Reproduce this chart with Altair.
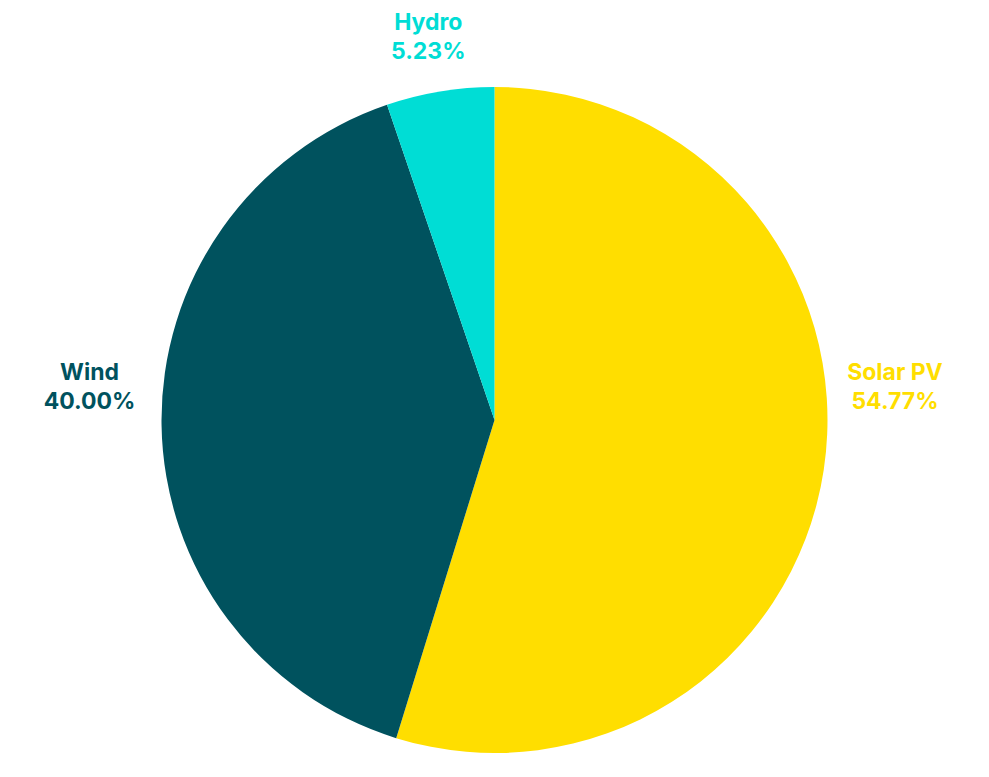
import altair as alt
import pandas as pd

sources = ["Solar PV", "Wind", "Hydro"]
shares = [54.77, 40.00, 5.23]
slice_order = [0, 1, 2]
colors = ["#FFDE00", "#00525E", "#00DDD5"]

df = pd.DataFrame({"source": sources, "share": shares, "slice_order": slice_order})

color = alt.Color("source:N", scale=alt.Scale(domain=sources, range=colors), legend=None)

base = alt.Chart(df).encode(
    theta=alt.Theta("share:Q", stack=True),
    order=alt.Order("slice_order:Q"),
    color=color,
)

arcs = base.mark_arc(outerRadius=333)

labels = base.transform_calculate(
    label="datum.source + '\\n' + format(datum.share, '.2f') + '%'"
).mark_text(
    radius=405,
    font="Inter",
    fontSize=23,
    fontWeight="bold",
    lineHeight=29,
    lineBreak="\n",
    align="center",
    baseline="middle",
    dy=alt.ExprRef("datum.source == 'Solar PV' ? -107 : (datum.source == 'Wind' ? -53 : 3)"),
).encode(text="label:N")

chart = (
    alt.layer(arcs, labels)
    .properties(
        width=973,
        height=698,
        autosize=alt.AutoSizeParams(type="none"),
        padding={"top": 63, "bottom": 0, "left": 0, "right": 0},
        background="white",
    )
    .configure_view(stroke=None)
)

chart.save("out.html", embed_options={"renderer": "svg", "actions": False})
